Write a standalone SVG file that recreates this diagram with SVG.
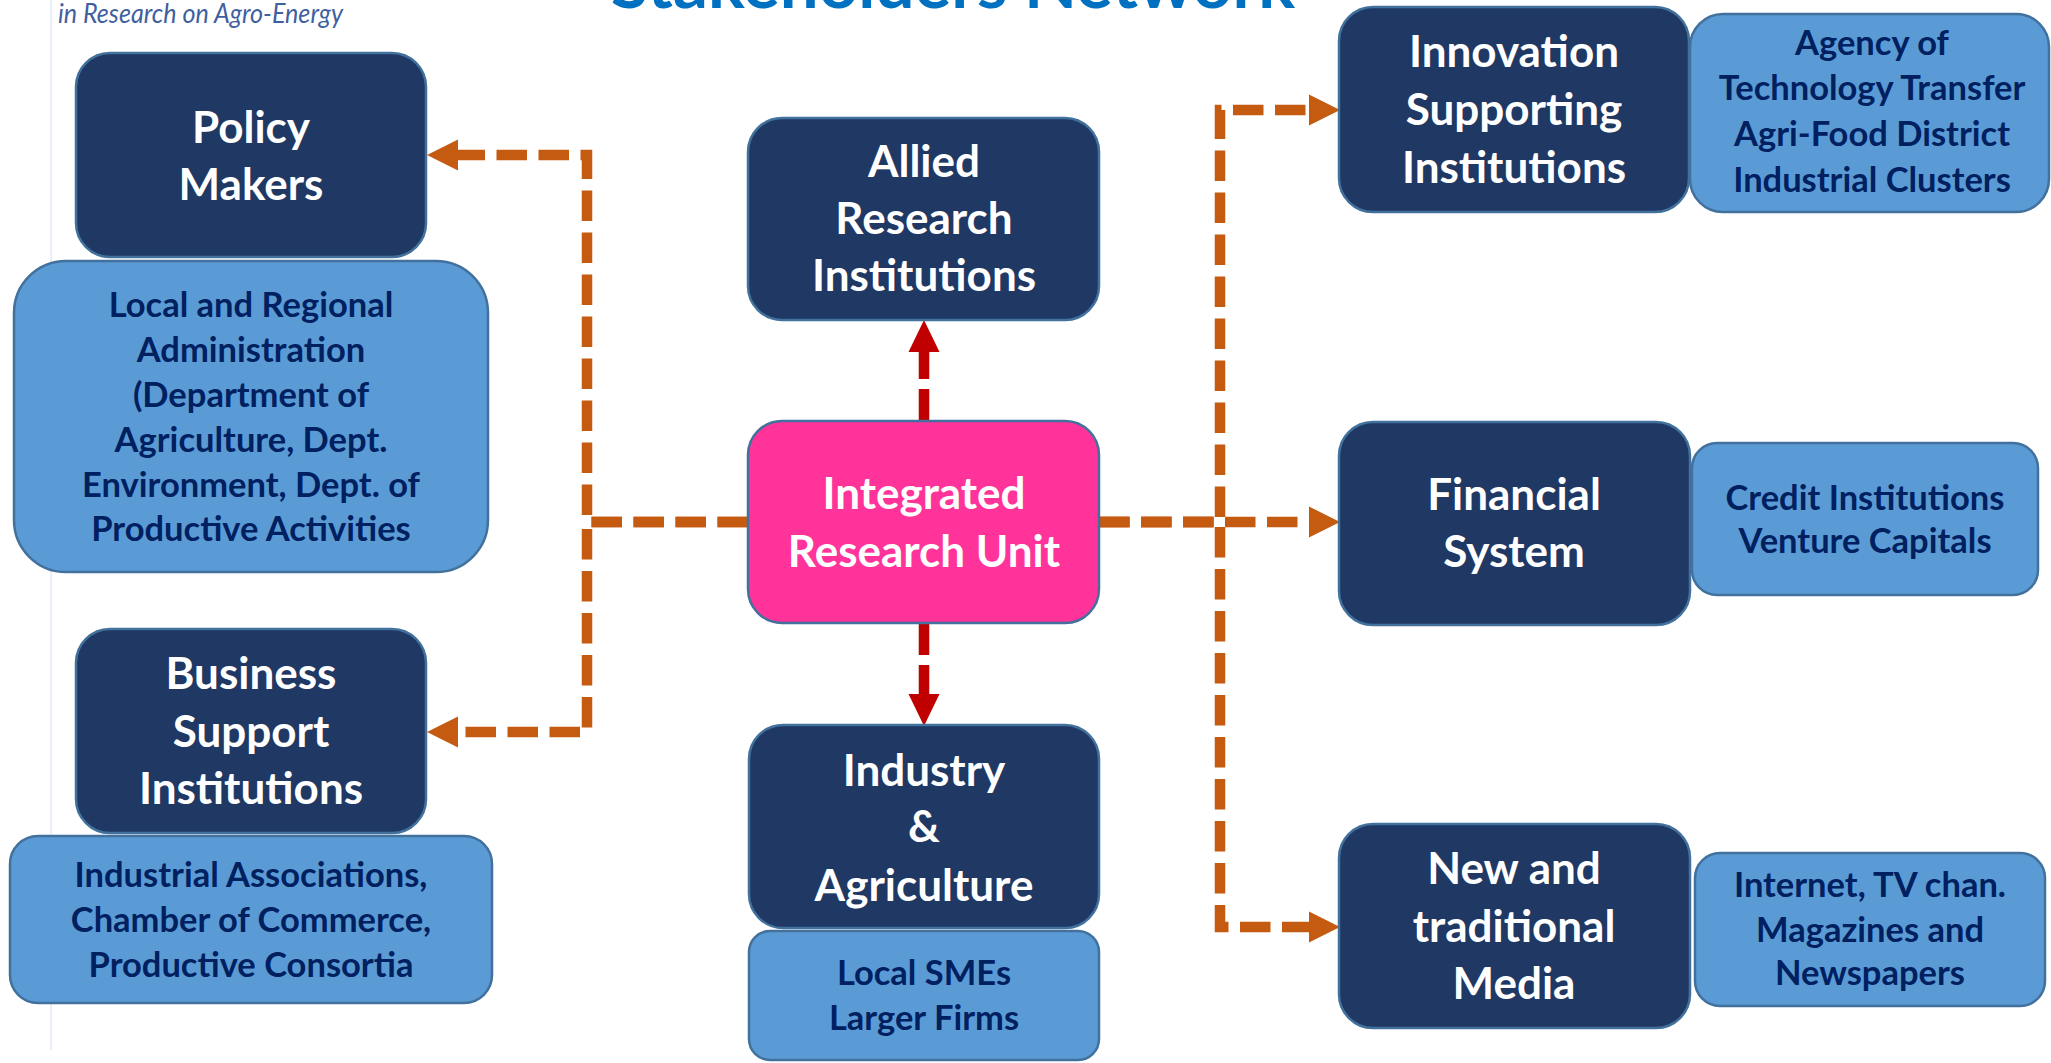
<svg xmlns="http://www.w3.org/2000/svg" width="2051" height="1063" viewBox="0 0 2051 1063">
<defs>
<style>
.dark{fill:#203864;stroke:#41719C;stroke-width:2.5}
.light{fill:#5B9BD5;stroke:#41719C;stroke-width:2.5}
.pink{fill:#FF3399;stroke:#41719C;stroke-width:2.5}
.tw{font-family:Lato,"Liberation Sans",sans-serif;font-weight:bold;font-size:44px;fill:#FFFFFF;text-anchor:middle}
.tb{font-family:Lato,"Liberation Sans",sans-serif;font-weight:bold;font-size:34.5px;fill:#002060;text-anchor:middle}
.conn{fill:none;stroke:#C55A11;stroke-width:10.5;stroke-dasharray:30.5 11.5;stroke-linejoin:miter}
.red{fill:none;stroke:#C00000;stroke-width:10.5;stroke-dasharray:32 10}
</style>
<marker id="ao" markerUnits="userSpaceOnUse" markerWidth="32" markerHeight="32" refX="0" refY="15.5" orient="auto" overflow="visible">
<path d="M0,0 L31,15.5 L0,31 z" fill="#C55A11"/>
</marker>
<marker id="ar" markerUnits="userSpaceOnUse" markerWidth="32" markerHeight="32" refX="0" refY="15.5" orient="auto" overflow="visible">
<path d="M0,0 L32,15.5 L0,31 z" fill="#C00000"/>
</marker>
</defs>
<rect width="2051" height="1063" fill="#FFFFFF"/>
<line x1="51" y1="0" x2="51" y2="1050" stroke="#DCE3F0" stroke-width="1.2"/>
<text x="611" y="8" textLength="684" lengthAdjust="spacingAndGlyphs" font-family="Lato,'Liberation Sans',sans-serif" font-weight="bold" font-size="66" fill="#0070C0">Stakeholders Network</text>
<text x="58" y="23" textLength="285" lengthAdjust="spacingAndGlyphs" font-family="Lato,'Liberation Sans',sans-serif" font-style="italic" font-size="27" fill="#3F5FA0">in Research on Agro-Energy</text>

<g id="connectors">
<path class="conn" d="M748,522 H587 V155 H458" marker-end="url(#ao)"/>
<path class="conn" d="M748,522 H587 V732 H458" marker-end="url(#ao)"/>
<path class="conn" d="M1099,522 H1220 V110 H1309" marker-end="url(#ao)"/>
<path class="conn" d="M1099,522 H1309" marker-end="url(#ao)"/>
<path class="conn" d="M1099,522 H1220 V927 H1309" marker-end="url(#ao)"/>
<path class="red" d="M924,421 V352" marker-end="url(#ar)"/>
<path class="red" d="M924,623 V694" marker-end="url(#ar)"/>
</g>

<g id="policy-makers">
<rect class="dark" x="76" y="53" width="350" height="204" rx="34"/>
<text class="tw" x="251" y="143">Policy</text>
<text class="tw" x="251" y="200">Makers</text>
</g>
<g id="local-regional">
<rect class="light" x="14" y="261" width="474" height="311" rx="52"/>
<text class="tb" x="251" y="317">Local and Regional</text>
<text class="tb" x="251" y="362">Administration</text>
<text class="tb" x="251" y="407">(Department of</text>
<text class="tb" x="251" y="452">Agriculture, Dept.</text>
<text class="tb" x="251" y="497">Environment, Dept. of</text>
<text class="tb" x="251" y="541">Productive Activities</text>
</g>
<g id="business-support">
<rect class="dark" x="76" y="629" width="350" height="204" rx="34"/>
<text class="tw" x="251" y="689">Business</text>
<text class="tw" x="251" y="747">Support</text>
<text class="tw" x="251" y="804">Institutions</text>
</g>
<g id="industrial-associations">
<rect class="light" x="10" y="836" width="482" height="167" rx="28"/>
<text class="tb" x="251" y="887">Industrial Associations,</text>
<text class="tb" x="251" y="932">Chamber of Commerce,</text>
<text class="tb" x="251" y="977">Productive Consortia</text>
</g>
<g id="allied-research">
<rect class="dark" x="748" y="118" width="351" height="202" rx="34"/>
<text class="tw" x="924" y="177">Allied</text>
<text class="tw" x="924" y="234">Research</text>
<text class="tw" x="924" y="291">Institutions</text>
</g>
<g id="integrated-research-unit">
<rect class="pink" x="748" y="421" width="351" height="202" rx="34"/>
<text class="tw" x="924" y="509">Integrated</text>
<text class="tw" x="924" y="567">Research Unit</text>
</g>
<g id="industry-agriculture">
<rect class="dark" x="749" y="725" width="350" height="203" rx="34"/>
<text class="tw" x="924" y="786">Industry</text>
<text class="tw" x="924" y="842">&amp;</text>
<text class="tw" x="924" y="901">Agriculture</text>
</g>
<g id="local-smes">
<rect class="light" x="749" y="931" width="350" height="129" rx="21"/>
<text class="tb" x="924" y="985">Local SMEs</text>
<text class="tb" x="924" y="1030">Larger Firms</text>
</g>
<g id="innovation-supporting">
<rect class="dark" x="1339" y="7" width="350" height="205" rx="34"/>
<text class="tw" x="1514" y="67">Innovation</text>
<text class="tw" x="1514" y="125">Supporting</text>
<text class="tw" x="1514" y="183">Institutions</text>
</g>
<g id="agency">
<rect class="light" x="1690" y="14" width="359" height="198" rx="33"/>
<text class="tb" x="1872" y="55">Agency of</text>
<text class="tb" x="1872" y="100">Technology Transfer</text>
<text class="tb" x="1872" y="146">Agri-Food District</text>
<text class="tb" x="1872" y="192">Industrial Clusters</text>
</g>
<g id="financial-system">
<rect class="dark" x="1339" y="422" width="351" height="203" rx="34"/>
<text class="tw" x="1514" y="510">Financial</text>
<text class="tw" x="1514" y="567">System</text>
</g>
<g id="credit">
<rect class="light" x="1692" y="443" width="346" height="152" rx="25"/>
<text class="tb" x="1865" y="510">Credit Institutions</text>
<text class="tb" x="1865" y="553">Venture Capitals</text>
</g>
<g id="media">
<rect class="dark" x="1339" y="824" width="351" height="204" rx="34"/>
<text class="tw" x="1514" y="884">New and</text>
<text class="tw" x="1514" y="942">traditional</text>
<text class="tw" x="1514" y="999">Media</text>
</g>
<g id="internet">
<rect class="light" x="1695" y="853" width="350" height="153" rx="25"/>
<text class="tb" x="1870" y="897">Internet, TV chan.</text>
<text class="tb" x="1870" y="942">Magazines and</text>
<text class="tb" x="1870" y="985">Newspapers</text>
</g>
</svg>
